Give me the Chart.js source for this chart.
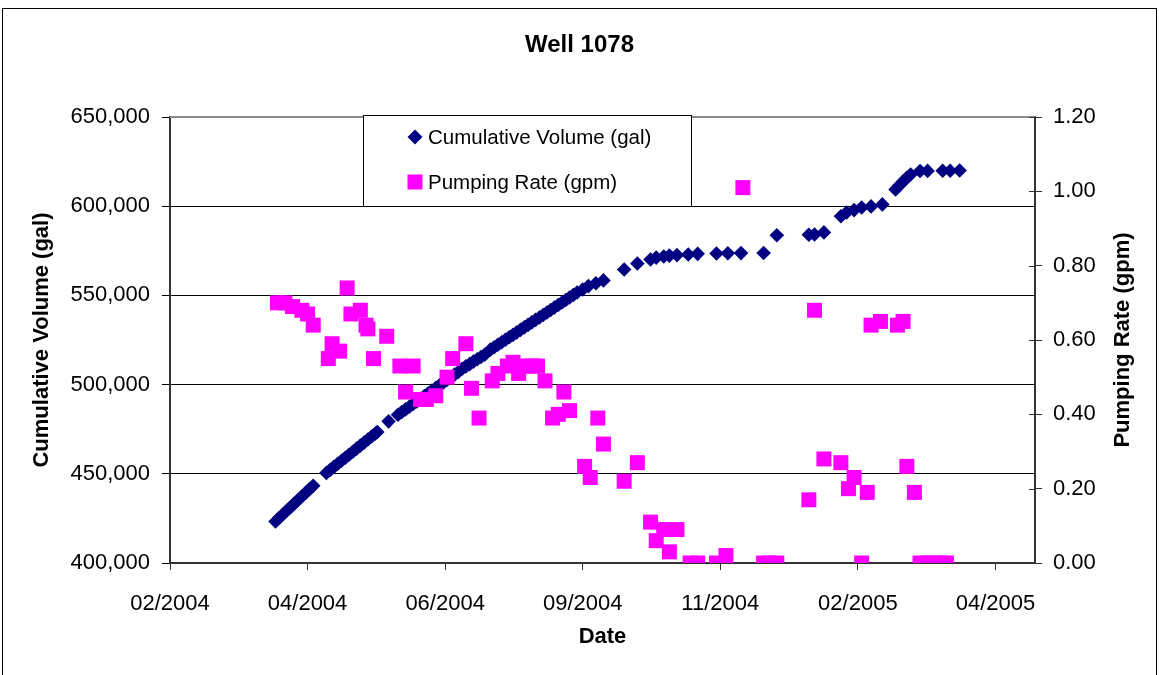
<!DOCTYPE html>
<html>
<head>
<meta charset="utf-8">
<title>Well 1078</title>
<script src="https://cdn.jsdelivr.net/npm/chart.js@4.4.1/dist/chart.umd.min.js"></script>
<style>
  html, body { margin: 0; padding: 0; background: #fff; }
  #chart { display: block; }
</style>
</head>
<body>
<canvas id="chart" width="1159" height="675"></canvas>
<script>
// Cumulative volume readings (gal)
const volDates = [
  '2004-03-31', '2004-04-02', '2004-04-04', '2004-04-06', '2004-04-08', '2004-04-10',
  '2004-04-12', '2004-04-14', '2004-04-16', '2004-04-18', '2004-04-20',
  '2004-04-27', '2004-04-29', '2004-05-01', '2004-05-03', '2004-05-05', '2004-05-07',
  '2004-05-09', '2004-05-11', '2004-05-13', '2004-05-15', '2004-05-17', '2004-05-19',
  '2004-05-21', '2004-05-23', '2004-05-24', '2004-05-30',
  '2004-06-04', '2004-06-06', '2004-06-08', '2004-06-10', '2004-06-12', '2004-06-14',
  '2004-06-16', '2004-06-18', '2004-06-20', '2004-06-22', '2004-06-24', '2004-06-26',
  '2004-06-28', '2004-06-30', '2004-07-02', '2004-07-04', '2004-07-06',
  '2004-07-08', '2004-07-10', '2004-07-12', '2004-07-14', '2004-07-16', '2004-07-18',
  '2004-07-20', '2004-07-23', '2004-07-25', '2004-07-27', '2004-07-29', '2004-07-31',
  '2004-08-02', '2004-08-04', '2004-08-06', '2004-08-08', '2004-08-10', '2004-08-12',
  '2004-08-14', '2004-08-16', '2004-08-18', '2004-08-20', '2004-08-22', '2004-08-24',
  '2004-08-26', '2004-08-28', '2004-08-30', '2004-09-01', '2004-09-03', '2004-09-05',
  '2004-09-07', '2004-09-10', '2004-09-13', '2004-09-17', '2004-09-21',
  '2004-10-02', '2004-10-09', '2004-10-16', '2004-10-19', '2004-10-23', '2004-10-26',
  '2004-10-30', '2004-11-05', '2004-11-10', '2004-11-20', '2004-11-26', '2004-12-03',
  '2004-12-15', '2004-12-22', '2005-01-08', '2005-01-11', '2005-01-16', '2005-01-25',
  '2005-01-28', '2005-02-01', '2005-02-05', '2005-02-10', '2005-02-16', '2005-02-23',
  '2005-02-25', '2005-02-27', '2005-03-01', '2005-03-03', '2005-03-08', '2005-03-12',
  '2005-03-20', '2005-03-24', '2005-03-29'
];
const volGallons = [
  423300, 425400, 427300, 429400, 431300, 433400,
  435300, 437400, 439300, 441400, 443300,
  450500, 452200, 453900, 455600, 457300, 459000,
  460700, 462400, 464100, 465800, 467500, 469200,
  470900, 472600, 473400, 479400,
  483100, 484600, 486100, 487600, 489100, 490600,
  492100, 493600, 495100, 496600, 498100, 499600,
  501100, 502600, 504100, 505600, 507100,
  508900, 510200, 511500, 512900, 514200, 515500,
  516800, 519600, 520900, 522300, 523700, 525100,
  526500, 527900, 529300, 530700, 532100, 533500,
  534900, 536300, 537600, 539000, 540400, 541800,
  543200, 544600, 546000, 547400, 548800, 550200,
  551600, 553300, 555200, 556800, 558400,
  564500, 567900, 570100, 571200, 571800, 572300,
  572600, 572900, 573300, 573500, 573600, 573700,
  573800, 583700, 584000, 584100, 585300, 594400,
  596500, 597800, 599300, 599900, 601000, 609400,
  611600, 613900, 615900, 617800, 619700, 619800,
  619900, 619900, 620000
];

// Pumping rate readings (gpm)
const rateDates = [
  '2004-04-01', '2004-04-05', '2004-04-09', '2004-04-14', '2004-04-17', '2004-04-20',
  '2004-04-28', '2004-04-30', '2004-05-04', '2004-05-08', '2004-05-10', '2004-05-15',
  '2004-05-18', '2004-05-19', '2004-05-22', '2004-05-29', '2004-06-05', '2004-06-08',
  '2004-06-12', '2004-06-16', '2004-06-19', '2004-06-24', '2004-06-30', '2004-07-03',
  '2004-07-10', '2004-07-13', '2004-07-17', '2004-07-24', '2004-07-27', '2004-08-01',
  '2004-08-04', '2004-08-07', '2004-08-10', '2004-08-14', '2004-08-17', '2004-08-21',
  '2004-08-25', '2004-08-28', '2004-08-31', '2004-09-03', '2004-09-11', '2004-09-14',
  '2004-09-18', '2004-09-21', '2004-10-02', '2004-10-09', '2004-10-16', '2004-10-19',
  '2004-10-23', '2004-10-26', '2004-10-30', '2004-11-06', '2004-11-10', '2004-11-20',
  '2004-11-25', '2004-12-04', '2004-12-15', '2004-12-18', '2004-12-22', '2005-01-08',
  '2005-01-11', '2005-01-16', '2005-01-25', '2005-01-29', '2005-02-01', '2005-02-05',
  '2005-02-08', '2005-02-10', '2005-02-15', '2005-02-24', '2005-02-27', '2005-03-01',
  '2005-03-05', '2005-03-08', '2005-03-12', '2005-03-15', '2005-03-19', '2005-03-22'
];
const rateGpm = [
  0.70, 0.70, 0.69, 0.68, 0.67, 0.64,
  0.55, 0.59, 0.57, 0.74, 0.67, 0.68,
  0.64, 0.63, 0.55, 0.61, 0.53, 0.46,
  0.53, 0.44, 0.44, 0.45, 0.50, 0.55,
  0.59, 0.47, 0.39, 0.49, 0.51, 0.53,
  0.54, 0.51, 0.53, 0.53, 0.53, 0.49,
  0.39, 0.40, 0.46, 0.41, 0.26, 0.23,
  0.39, 0.32, 0.22, 0.27, 0.11, 0.06,
  0.09, 0.03, 0.09, 0.00, 0.00, 0.00,
  0.02, 1.01, 0.00, 0.00, 0.00, 0.17,
  0.68, 0.28, 0.27, 0.20, 0.23, 0.00,
  0.19, 0.64, 0.65, 0.64, 0.65, 0.26,
  0.19, 0.00, 0.00, 0.00, 0.00, 0.00
];

// x axis: days counted from the first tick, one tick every 73 days
const axisStart = Date.UTC(2004, 1, 4);
const dayMs = 86400000;
const tickDays = [0, 73, 146, 219, 292, 365, 438];
const axisEndDay = 459;

const FONT = "'Liberation Sans', Arial, sans-serif";
const NAVY = '#000080';
const MAGENTA = '#ff00ff';

function toDay(s) {
  const [y, m, d] = s.split('-').map(Number);
  return (Date.UTC(y, m - 1, d) - axisStart) / dayMs;
}

function dayLabel(v) {
  const d = new Date(axisStart + v * dayMs);
  const mm = String(d.getUTCMonth() + 1).padStart(2, '0');
  return mm + '/' + d.getUTCFullYear();
}

const volPoints = volDates.map((s, i) => ({ x: toDay(s), y: volGallons[i] }));
const ratePoints = rateDates.map((s, i) => ({ x: toDay(s), y: rateGpm[i] }));

// white page, outer frame, grey top edge of the plot area, right axis title
const framePlugin = {
  id: 'frame',
  beforeDraw(chart) {
    const ctx = chart.ctx;
    ctx.save();
    ctx.fillStyle = '#fff';
    ctx.fillRect(0, 0, chart.width, chart.height);
    ctx.strokeStyle = '#000';
    ctx.lineWidth = 1;
    ctx.strokeRect(2.5, 8.5, 1154, 720);
    ctx.restore();
  },
  beforeDatasetsDraw(chart) {
    const { ctx, chartArea } = chart;
    ctx.save();
    ctx.strokeStyle = '#8a8a8a';
    ctx.lineWidth = 2;
    ctx.beginPath();
    ctx.moveTo(chartArea.left, chartArea.top);
    ctx.lineTo(chartArea.right, chartArea.top);
    ctx.stroke();
    // inner half of the cross ticks on the right axis
    const y2 = chart.scales.y2;
    ctx.strokeStyle = '#333';
    ctx.lineWidth = 1;
    y2.ticks.forEach(t => {
      const py = Math.round(y2.getPixelForValue(t.value)) + 0.5;
      ctx.beginPath();
      ctx.moveTo(chartArea.right - 6, py);
      ctx.lineTo(chartArea.right, py);
      ctx.stroke();
    });
    // right axis title reads bottom to top like the left one
    ctx.translate(1123, (chartArea.top + chartArea.bottom) / 2);
    ctx.rotate(-Math.PI / 2);
    ctx.fillStyle = '#000';
    ctx.font = 'bold 22px ' + FONT;
    ctx.textAlign = 'center';
    ctx.textBaseline = 'middle';
    ctx.fillText('Pumping Rate (gpm)', 0, 0);
    ctx.restore();
  }
};

// boxed legend sitting over the top of the plot area
const legendPlugin = {
  id: 'boxLegend',
  afterDatasetsDraw(chart) {
    const ctx = chart.ctx;
    const box = { x: 363.5, y: 115.5, w: 328, h: 91 };
    ctx.save();
    ctx.fillStyle = '#fff';
    ctx.fillRect(box.x, box.y, box.w, box.h);
    ctx.strokeStyle = '#000';
    ctx.lineWidth = 1;
    ctx.strokeRect(box.x, box.y, box.w, box.h);
    ctx.font = '20.5px ' + FONT;
    ctx.textBaseline = 'middle';
    ctx.fillStyle = '#000';

    const rows = [137, 182];
    chart.data.datasets.forEach((ds, i) => {
      const cy = rows[i];
      ctx.fillStyle = ds.backgroundColor;
      ctx.beginPath();
      if (ds.pointStyle === 'rectRot') {
        ctx.moveTo(415, cy - 7.5);
        ctx.lineTo(422.5, cy);
        ctx.lineTo(415, cy + 7.5);
        ctx.lineTo(407.5, cy);
        ctx.closePath();
      } else {
        ctx.rect(407.5, cy - 7.5, 15, 15);
      }
      ctx.fill();
      ctx.fillStyle = '#000';
      ctx.fillText(ds.label, 428, cy + 1);
    });
    ctx.restore();
  }
};

new Chart(document.getElementById('chart'), {
  type: 'scatter',
  data: {
    datasets: [
      {
        label: 'Cumulative Volume (gal)',
        data: volPoints,
        yAxisID: 'y',
        pointStyle: 'rectRot',
        pointRadius: 7.3,
        borderWidth: 0,
        backgroundColor: NAVY,
        borderColor: NAVY,
        order: 1
      },
      {
        label: 'Pumping Rate (gpm)',
        data: ratePoints,
        yAxisID: 'y2',
        pointStyle: 'rect',
        pointRadius: 10.6,
        borderWidth: 0,
        backgroundColor: MAGENTA,
        borderColor: MAGENTA,
        order: 0
      }
    ]
  },
  options: {
    responsive: false,
    animation: false,
    devicePixelRatio: 1,
    layout: { padding: 0 },
    plugins: {
      legend: { display: false },
      tooltip: { enabled: false },
      title: {
        display: true,
        text: 'Well 1078',
        color: '#000',
        font: { family: FONT, size: 24, weight: 'bold', lineHeight: 1.2 },
        padding: { top: 31, bottom: 57.2 }
      }
    },
    scales: {
      x: {
        type: 'linear',
        min: 0,
        max: axisEndDay,
        afterBuildTicks: s => { s.ticks = tickDays.map(v => ({ value: v })); },
        afterFit: s => { s.height = 112; },
        ticks: {
          color: '#000',
          padding: 21,
          maxRotation: 0,
          autoSkip: false,
          font: { family: FONT, size: 22 },
          callback: v => dayLabel(v)
        },
        grid: { drawOnChartArea: false, tickLength: 7, color: '#333' },
        border: { color: '#333', width: 2 },
        title: {
          display: true,
          text: 'Date',
          color: '#000',
          font: { family: FONT, size: 22, weight: 'bold', lineHeight: 1.2 },
          padding: { top: 0, bottom: 25 }
        }
      },
      y: {
        position: 'left',
        min: 400000,
        max: 650000,
        afterFit: s => { s.width = 170; },
        ticks: {
          stepSize: 50000,
          color: '#000',
          padding: 12,
          font: { family: FONT, size: 22 },
          callback: v => v.toLocaleString('en-US')
        },
        grid: {
          tickLength: 8,
          color: '#000',
          lineWidth: 1
        },
        border: { color: '#333', width: 2 },
        title: {
          display: true,
          text: 'Cumulative Volume (gal)',
          color: '#000',
          font: { family: FONT, size: 22, weight: 'bold', lineHeight: 1.2 },
          padding: { top: 29, bottom: 0 }
        }
      },
      y2: {
        position: 'right',
        min: 0,
        max: 1.2,
        afterFit: s => { s.width = 124; },
        ticks: {
          stepSize: 0.2,
          color: '#000',
          padding: 11,
          font: { family: FONT, size: 22 },
          callback: v => v.toFixed(2)
        },
        grid: { drawOnChartArea: false, tickLength: 7, color: '#333' },
        border: { color: '#333', width: 2 },
        title: { display: false }
      }
    }
  },
  plugins: [framePlugin, legendPlugin]
});
</script>
</body>
</html>
